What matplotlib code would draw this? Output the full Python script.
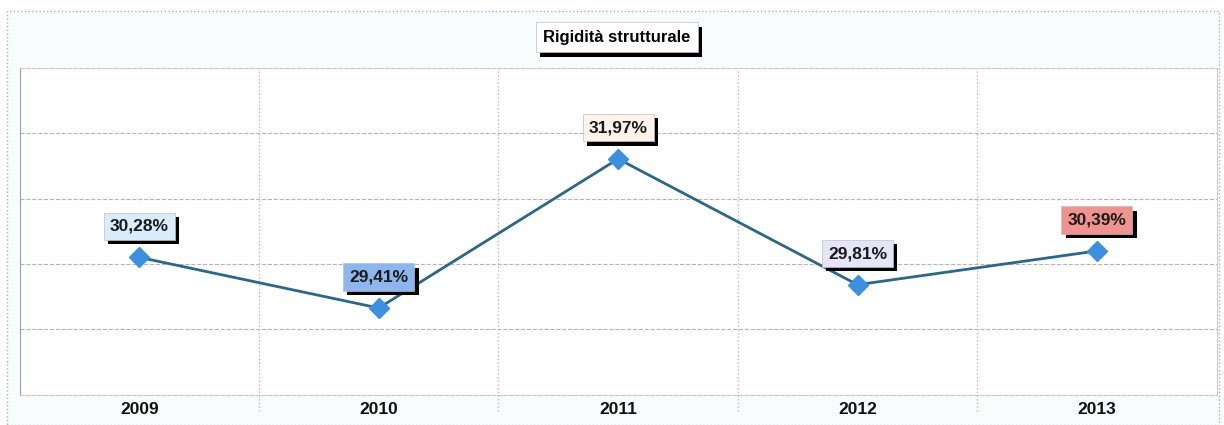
import numpy as np
import matplotlib
matplotlib.use("Agg")
import matplotlib.pyplot as plt
from matplotlib import patheffects as pe

plt.rcParams['font.family'] = ['Liberation Sans', 'DejaVu Sans']

years = ['2009', '2010', '2011', '2012', '2013']
values = [30.28, 29.41, 31.97, 29.81, 30.39]
labels = ['30,28%', '29,41%', '31,97%', '29,81%', '30,39%']
box_colors = ['#d9ecfa', '#8db6ee', '#fdf3ea', '#e6e4f7', '#ef9390']

fig = plt.figure(figsize=(12.24, 4.25), dpi=100)
fig.patch.set_facecolor('white')

# outer dotted frame
frame = plt.Rectangle((0.006, 0.0), 0.99, 0.975, transform=fig.transFigure,
                      fill=True, facecolor='#f8fcfd', edgecolor='#b0b0c0',
                      linestyle=':', lw=1, zorder=-10)
fig.patches.append(frame)

ax = fig.add_axes([0.016, 0.071, 0.978, 0.769])
ax.set_facecolor('white')

x = np.arange(len(years))
ax.plot(x, values, color='#2d6786', lw=2, zorder=3)
ax.plot(x, values, ls='none', marker='D', ms=10, color='#3d8fe0',
        markeredgecolor='#3d8fe0', zorder=4)

ax.set_xlim(-0.5, len(years) - 0.5)
ax.set_ylim(27.92, 33.53)
ax.set_yticks(np.linspace(27.92, 33.53, 6))
ax.set_yticklabels([])
ax.tick_params(axis='y', length=0)
ax.grid(axis='y', color='#b5b5b5', ls='--', lw=0.8)

ax.set_xticks(x)
ax.set_xticklabels(years, fontsize=12.5, fontweight='bold', color='#111111')
ax.tick_params(axis='x', length=0, pad=5)
for b in x[:-1] + 0.5:
    ax.axvline(b, ymin=-0.05, ymax=1, color='#b8bcd4', ls=':', lw=1, clip_on=False)

for s in ['top', 'right', 'bottom']:
    ax.spines[s].set_color('#c8c8d0')
    ax.spines[s].set_linestyle('--')
ax.spines['left'].set_color('#9a9ad0')

for xi, v, lab, c in zip(x, values, labels, box_colors):
    t = ax.annotate(lab, (xi, v), xytext=(0, 31), textcoords='offset pixels',
                    ha='center', va='center', fontsize=12.5, fontweight='bold',
                    color='#1a1a1a',
                    bbox=dict(boxstyle='square,pad=0.35', fc=c, ec='#c0c0c0', lw=0.5),
                    zorder=5)
    t.get_bbox_patch().set_path_effects([
        pe.SimplePatchShadow(offset=(3, -3), shadow_rgbFace='black', alpha=1),
        pe.Normal()])

title = fig.text(0.504, 0.912, 'Rigidità strutturale', ha='center', va='center',
                 fontsize=12, fontweight='bold',
                 bbox=dict(boxstyle='square,pad=0.45', fc='white', ec='#c0c0c0', lw=0.5))
title.get_bbox_patch().set_path_effects([
    pe.SimplePatchShadow(offset=(3, -3), shadow_rgbFace='black', alpha=1),
    pe.Normal()])

fig.savefig('out.png', dpi=100)
